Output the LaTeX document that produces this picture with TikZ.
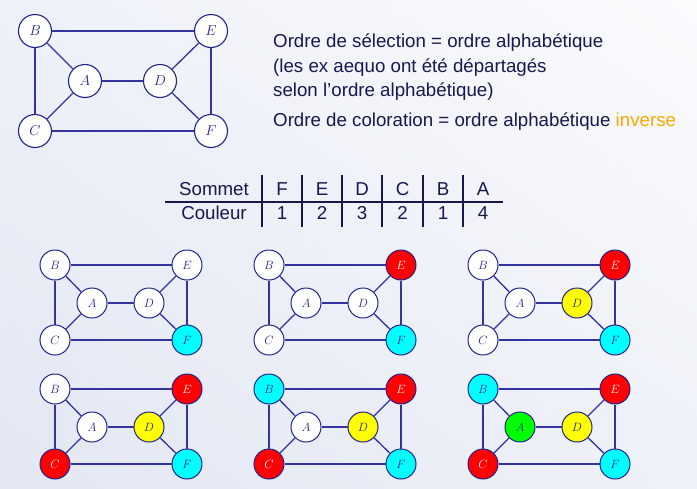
\documentclass[tikz,border=0pt]{standalone}
\usepackage{fontspec}
\setmainfont{Liberation Sans}
\usetikzlibrary{shadings}
\definecolor{ink}{RGB}{24,24,78}
\definecolor{navy}{RGB}{36,36,140}
\definecolor{edgeblue}{RGB}{52,52,160}
\definecolor{accent}{RGB}{250,168,0}
\definecolor{vcyan}{RGB}{0,255,255}
\definecolor{vred}{RGB}{255,0,0}
\definecolor{vyellow}{RGB}{255,255,0}
\definecolor{vgreen}{RGB}{0,255,0}
\definecolor{bgA}{RGB}{238,241,248}
\definecolor{bgB}{RGB}{250,251,253}
\definecolor{bgC}{RGB}{227,231,243}
\tikzset{
  vtx/.style={circle,draw=navy,line width=1.1pt,fill=white,minimum size=33pt,inner sep=0pt,
    text=navy,font=\fontsize{14}{16}\selectfont},
  svtx/.style={circle,draw=navy,line width=1pt,fill=white,minimum size=30pt,inner sep=0pt,
    text=navy,font=\fontsize{11.5}{13}\selectfont},
  edge/.style={draw=edgeblue,line width=1.3pt},
  fnone/.style={},
  fcyan/.style={fill=vcyan},
  fred/.style={fill=vred,text=white},
  fyellow/.style={fill=vyellow},
  fgreen/.style={fill=vgreen},
  txt/.style={anchor=base west,inner sep=0pt,text=ink,font=\fontsize{18.7}{22}\selectfont},
  cell/.style={anchor=base,inner sep=0pt,text=ink,font=\fontsize{18.7}{22}\selectfont},
  rule/.style={draw=ink,line width=1.4pt}
}
% one small coloured copy of the graph: shift x, shift y, prefix, fills of A..F
\newcommand{\colgraph}[9]{%
  \begin{scope}[shift={(#1,#2)}]
    \node[svtx,#4] (#3A) at (92,303) {$A$};
    \node[svtx,#5] (#3B) at (55,265) {$B$};
    \node[svtx,#6] (#3C) at (55,340) {$C$};
    \node[svtx,#7] (#3D) at (149,303) {$D$};
    \node[svtx,#8] (#3E) at (187,265) {$E$};
    \node[svtx,#9] (#3F) at (187,340) {$F$};
    \draw[edge] (#3B) -- (#3E);
    \draw[edge] (#3B) -- (#3C);
    \draw[edge] (#3B) -- (#3A);
    \draw[edge] (#3A) -- (#3C);
    \draw[edge] (#3A) -- (#3D);
    \draw[edge] (#3D) -- (#3E);
    \draw[edge] (#3D) -- (#3F);
    \draw[edge] (#3E) -- (#3F);
    \draw[edge] (#3C) -- (#3F);
  \end{scope}}
\begin{document}
\begin{tikzpicture}[x=1pt,y=-1pt]
  \useasboundingbox (0,0) rectangle (697,488);
  \shade[upper left=bgA,upper right=bgB,lower left=bgC,lower right=bgA] (0,0) rectangle (697,488);

  % main graph
  \node[vtx] (A) at (85,81) {$A$};
  \node[vtx] (B) at (35,31) {$B$};
  \node[vtx] (C) at (35,131) {$C$};
  \node[vtx] (D) at (160,81) {$D$};
  \node[vtx] (E) at (211,31) {$E$};
  \node[vtx] (F) at (211,131) {$F$};
  \draw[edge] (B) -- (E);
  \draw[edge] (B) -- (C);
  \draw[edge] (B) -- (A);
  \draw[edge] (A) -- (C);
  \draw[edge] (A) -- (D);
  \draw[edge] (D) -- (E);
  \draw[edge] (D) -- (F);
  \draw[edge] (E) -- (F);
  \draw[edge] (C) -- (F);

  % explanation
  \node[txt] (l1) at (273,47) {Ordre de sélection = ordre alphabétique};
  \node[txt] (l2) at (273,72) {(les ex aequo ont été départagés};
  \node[txt] (l3) at (273,96.5) {selon l’ordre alphabétique)};
  \node[txt] (l4) at (273,126) {Ordre de coloration = ordre alphabétique \textcolor{accent}{inverse}};

  % table
  \node[cell] (h0) at (214,195) {Sommet};
  \node[cell] (h1) at (282,195) {F};
  \node[cell] (h2) at (322,195) {E};
  \node[cell] (h3) at (362,195) {D};
  \node[cell] (h4) at (402.5,195) {C};
  \node[cell] (h5) at (443,195) {B};
  \node[cell] (h6) at (483,195) {A};
  \node[cell] (r0) at (214,219) {Couleur};
  \node[cell] (r1) at (282,219) {1};
  \node[cell] (r2) at (322,219) {2};
  \node[cell] (r3) at (362,219) {3};
  \node[cell] (r4) at (402.5,219) {2};
  \node[cell] (r5) at (443,219) {1};
  \node[cell] (r6) at (483,219) {4};
  \draw[rule] (165,202) -- (503,202);
  \foreach \xx in {262,302,342,382,423,463}
    \draw[rule] (\xx,175) -- (\xx,227);

  % colouring steps
  \colgraph{0}{0}{a}{fnone}{fnone}{fnone}{fnone}{fnone}{fcyan}
  \colgraph{214}{0}{b}{fnone}{fnone}{fnone}{fnone}{fred}{fcyan}
  \colgraph{428}{0}{c}{fnone}{fnone}{fnone}{fyellow}{fred}{fcyan}
  \colgraph{0}{124}{d}{fnone}{fnone}{fred}{fyellow}{fred}{fcyan}
  \colgraph{214}{124}{e}{fnone}{fcyan}{fred}{fyellow}{fred}{fcyan}
  \colgraph{428}{124}{f}{fgreen}{fcyan}{fred}{fyellow}{fred}{fcyan}
\end{tikzpicture}
\end{document}
